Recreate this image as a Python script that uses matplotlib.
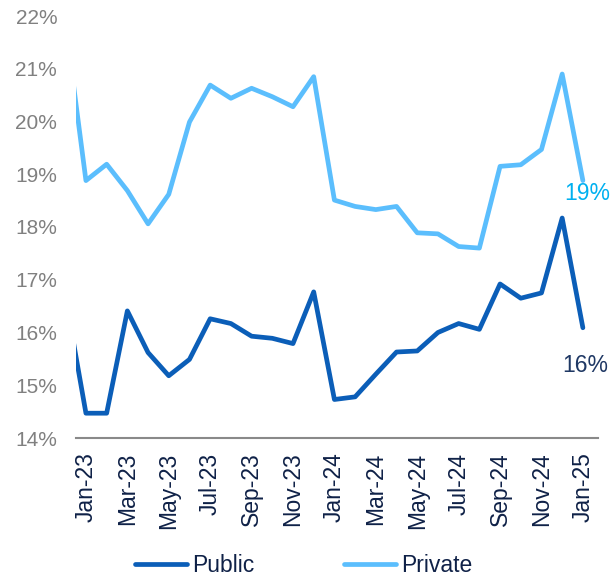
import matplotlib
matplotlib.use("Agg")
import matplotlib.pyplot as plt

plt.rcParams['font.family'] = ['Liberation Sans', 'DejaVu Sans']

# monthly data, Dec-22 .. Jan-25 (Dec-22 only shows as the clipped first segment)
months = ['Dec-22',
          'Jan-23', 'Feb-23', 'Mar-23', 'Apr-23', 'May-23', 'Jun-23',
          'Jul-23', 'Aug-23', 'Sep-23', 'Oct-23', 'Nov-23', 'Dec-23',
          'Jan-24', 'Feb-24', 'Mar-24', 'Apr-24', 'May-24', 'Jun-24',
          'Jul-24', 'Aug-24', 'Sep-24', 'Oct-24', 'Nov-24', 'Dec-24',
          'Jan-25']
public = [16.7,
          14.47, 14.47, 16.41, 15.62, 15.18, 15.49,
          16.26, 16.17, 15.93, 15.89, 15.79, 16.77,
          14.73, 14.78, 15.21, 15.63, 15.65, 16.00,
          16.17, 16.06, 16.92, 16.65, 16.75, 18.17,
          16.09]
private = [21.9,
           18.88, 19.19, 18.69, 18.06, 18.62, 19.99,
           20.69, 20.44, 20.63, 20.47, 20.28, 20.85,
           18.51, 18.39, 18.33, 18.39, 17.89, 17.87,
           17.63, 17.60, 19.15, 19.18, 19.47, 20.90,
           18.88]
y_ticks = [14, 15, 16, 17, 18, 19, 20, 21, 22]

c_public = '#0B5EB8'
c_private = '#5BBEFD'
navy = '#0F2147'
grey = '#808080'

x = list(range(-1, len(months) - 1))

fig = plt.figure(figsize=(6.11, 5.78), dpi=100)
ax = fig.add_axes([76 / 611, 140 / 578, 522 / 611, 422 / 578])

ax.plot(x, public, color=c_public, lw=3.4, solid_capstyle='round',
        solid_joinstyle='round', label='Public')
ax.plot(x, private, color=c_private, lw=3.4, solid_capstyle='round',
        solid_joinstyle='round', label='Private')

ax.set_xlim(-0.48, 24.73)
ax.set_ylim(14, 22)

# end labels
ax.annotate(f"{private[-1]:.0f}%", (x[-1], private[-1]), xytext=(3, -9.5),
            textcoords='offset points', ha='center', va='center',
            fontsize=16.5, color='#00B0F0')
ax.annotate(f"{public[-1]:.0f}%", (x[-1], public[-1]), xytext=(2, -27.5),
            textcoords='offset points', ha='center', va='center',
            fontsize=16.5, color='#1F3864')

tick_pos = x[1::2]
ax.set_xticks(tick_pos)
ax.set_xticklabels(months[1::2], rotation=90, fontsize=16.5, color=navy)
ax.set_yticks(y_ticks)
ax.set_yticklabels([f"{v}%" for v in y_ticks], fontsize=15, color=grey)
ax.tick_params(axis='x', length=0, pad=10.5)
ax.tick_params(axis='y', length=0, pad=13.5)

for s in ['top', 'right', 'left']:
    ax.spines[s].set_visible(False)
ax.spines['bottom'].set_color('#898989')
ax.spines['bottom'].set_linewidth(1.5)

fig.legend(loc='center', bbox_to_anchor=(303.5 / 611, 12 / 578), ncol=2,
           frameon=False, fontsize=16.5, handlelength=2.3, handletextpad=0.2,
           columnspacing=3.9, labelcolor=navy, borderaxespad=0)

fig.savefig('out.png', dpi=100)
